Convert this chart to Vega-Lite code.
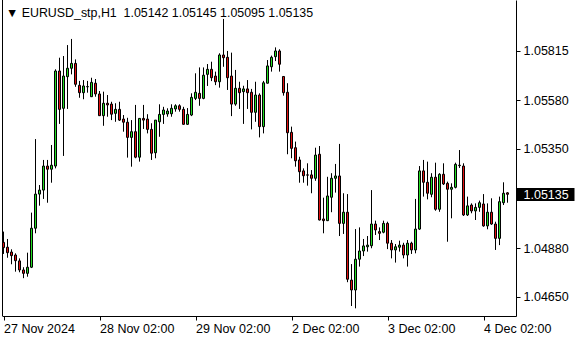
{
  "$schema": "https://vega.github.io/schema/vega-lite/v6.json",
  "width": 514,
  "height": 316,
  "autosize": {"type": "none"},
  "padding": {"left": 2, "top": 0, "right": 64, "bottom": 24},
  "background": "white",
  "config": {"view": {"stroke": null}},
  "datasets": {
    "frame": [{"edge": -0.25}],
    "last": [{"p": 1.05135}],
    "head": [{"label": "▼ EURUSD_stp,H1\u00a0\u00a01.05142 1.05145 1.05095 1.05135"}],
    "bars": [
      {"i":0,"o":1.04907,"h":1.04958,"l":1.04852,"c":1.04882},
      {"i":1,"o":1.04884,"h":1.04923,"l":1.04834,"c":1.04858},
      {"i":2,"o":1.04861,"h":1.04874,"l":1.04803,"c":1.04844},
      {"i":3,"o":1.04847,"h":1.04855,"l":1.04768,"c":1.0482},
      {"i":4,"o":1.04819,"h":1.04831,"l":1.04765,"c":1.04776},
      {"i":5,"o":1.04776,"h":1.04789,"l":1.04737,"c":1.0476},
      {"i":6,"o":1.0476,"h":1.04858,"l":1.04744,"c":1.04789},
      {"i":7,"o":1.04789,"h":1.05048,"l":1.04785,"c":1.04974},
      {"i":8,"o":1.04974,"h":1.05397,"l":1.0495,"c":1.05136},
      {"i":9,"o":1.05136,"h":1.05179,"l":1.05081,"c":1.05155},
      {"i":10,"o":1.05155,"h":1.05298,"l":1.05113,"c":1.05269},
      {"i":11,"o":1.05269,"h":1.05298,"l":1.05095,"c":1.05254},
      {"i":12,"o":1.05254,"h":1.05369,"l":1.0519,"c":1.05273},
      {"i":13,"o":1.05269,"h":1.05728,"l":1.05258,"c":1.0572},
      {"i":14,"o":1.0572,"h":1.05783,"l":1.05469,"c":1.05538},
      {"i":15,"o":1.05543,"h":1.05791,"l":1.05317,"c":1.05696},
      {"i":16,"o":1.05693,"h":1.05843,"l":1.0554,"c":1.05733},
      {"i":17,"o":1.05733,"h":1.05872,"l":1.05704,"c":1.05756},
      {"i":18,"o":1.05756,"h":1.05775,"l":1.05645,"c":1.05657},
      {"i":19,"o":1.05652,"h":1.05673,"l":1.05593,"c":1.05617},
      {"i":20,"o":1.05617,"h":1.05677,"l":1.05586,"c":1.05649},
      {"i":21,"o":1.05645,"h":1.05673,"l":1.05617,"c":1.05646},
      {"i":22,"o":1.05598,"h":1.05688,"l":1.05597,"c":1.05666},
      {"i":23,"o":1.05662,"h":1.05682,"l":1.05598,"c":1.05611},
      {"i":24,"o":1.05611,"h":1.05625,"l":1.05507,"c":1.05508},
      {"i":25,"o":1.05508,"h":1.05622,"l":1.0546,"c":1.05567},
      {"i":26,"o":1.05567,"h":1.05606,"l":1.05503,"c":1.05559},
      {"i":27,"o":1.05563,"h":1.05574,"l":1.05487,"c":1.05515},
      {"i":28,"o":1.05519,"h":1.05567,"l":1.05479,"c":1.05538},
      {"i":29,"o":1.05538,"h":1.05574,"l":1.05483,"c":1.05487},
      {"i":30,"o":1.05492,"h":1.05511,"l":1.05432,"c":1.05477},
      {"i":31,"o":1.05477,"h":1.05498,"l":1.05309,"c":1.05405},
      {"i":32,"o":1.05405,"h":1.05487,"l":1.05266,"c":1.05432},
      {"i":33,"o":1.05432,"h":1.05559,"l":1.05306,"c":1.05311},
      {"i":34,"o":1.05311,"h":1.05496,"l":1.0529,"c":1.05495},
      {"i":35,"o":1.05495,"h":1.05559,"l":1.05445,"c":1.05487},
      {"i":36,"o":1.05492,"h":1.05515,"l":1.05424,"c":1.05443},
      {"i":37,"o":1.05443,"h":1.05472,"l":1.05298,"c":1.0533},
      {"i":38,"o":1.05332,"h":1.05487,"l":1.05306,"c":1.05487},
      {"i":39,"o":1.05479,"h":1.05562,"l":1.05408,"c":1.05514},
      {"i":40,"o":1.05514,"h":1.0555,"l":1.05469,"c":1.05535},
      {"i":41,"o":1.05516,"h":1.05543,"l":1.05503,"c":1.0553},
      {"i":42,"o":1.05517,"h":1.05562,"l":1.05503,"c":1.05543},
      {"i":43,"o":1.0554,"h":1.05562,"l":1.05527,"c":1.05555},
      {"i":44,"o":1.05555,"h":1.05562,"l":1.05527,"c":1.05538},
      {"i":45,"o":1.05538,"h":1.0555,"l":1.05466,"c":1.05467},
      {"i":46,"o":1.05467,"h":1.05544,"l":1.05464,"c":1.05514},
      {"i":47,"o":1.05511,"h":1.05614,"l":1.05506,"c":1.05595},
      {"i":48,"o":1.0559,"h":1.05709,"l":1.05582,"c":1.05619},
      {"i":49,"o":1.05614,"h":1.05737,"l":1.05555,"c":1.0559},
      {"i":50,"o":1.0559,"h":1.05737,"l":1.05586,"c":1.057},
      {"i":51,"o":1.05704,"h":1.05753,"l":1.05649,"c":1.05728},
      {"i":52,"o":1.05728,"h":1.05764,"l":1.05672,"c":1.05688},
      {"i":53,"o":1.05696,"h":1.05717,"l":1.05653,"c":1.05669},
      {"i":54,"o":1.05669,"h":1.05804,"l":1.05641,"c":1.05796},
      {"i":55,"o":1.05796,"h":1.05967,"l":1.0574,"c":1.05783},
      {"i":56,"o":1.05785,"h":1.05815,"l":1.0563,"c":1.05688},
      {"i":57,"o":1.05696,"h":1.05807,"l":1.05506,"c":1.05563},
      {"i":58,"o":1.05563,"h":1.05725,"l":1.05555,"c":1.05638},
      {"i":59,"o":1.05638,"h":1.05669,"l":1.0554,"c":1.05617},
      {"i":60,"o":1.05622,"h":1.0565,"l":1.05469,"c":1.05635},
      {"i":61,"o":1.05635,"h":1.05677,"l":1.0554,"c":1.05617},
      {"i":62,"o":1.05619,"h":1.05635,"l":1.05443,"c":1.05524},
      {"i":63,"o":1.05524,"h":1.05669,"l":1.05479,"c":1.05606},
      {"i":64,"o":1.05606,"h":1.05614,"l":1.05405,"c":1.05456},
      {"i":65,"o":1.05456,"h":1.05673,"l":1.05424,"c":1.05664},
      {"i":66,"o":1.05662,"h":1.05772,"l":1.05661,"c":1.05744},
      {"i":67,"o":1.0574,"h":1.05793,"l":1.05717,"c":1.05785},
      {"i":68,"o":1.05788,"h":1.05832,"l":1.05767,"c":1.05815},
      {"i":69,"o":1.05815,"h":1.05823,"l":1.05717,"c":1.05752},
      {"i":70,"o":1.05694,"h":1.05696,"l":1.05603,"c":1.05617},
      {"i":71,"o":1.05619,"h":1.05662,"l":1.05325,"c":1.05427},
      {"i":72,"o":1.05429,"h":1.05456,"l":1.05306,"c":1.05353},
      {"i":73,"o":1.05356,"h":1.05385,"l":1.05266,"c":1.05294},
      {"i":74,"o":1.05298,"h":1.05313,"l":1.0519,"c":1.05242},
      {"i":75,"o":1.05246,"h":1.05258,"l":1.0519,"c":1.05223},
      {"i":76,"o":1.05227,"h":1.05282,"l":1.05176,"c":1.05226},
      {"i":77,"o":1.05227,"h":1.0525,"l":1.0514,"c":1.05211},
      {"i":78,"o":1.05211,"h":1.05356,"l":1.05199,"c":1.05321},
      {"i":79,"o":1.05325,"h":1.05364,"l":1.05011,"c":1.05013},
      {"i":80,"o":1.05018,"h":1.05119,"l":1.0495,"c":1.0501},
      {"i":81,"o":1.0501,"h":1.05218,"l":1.05008,"c":1.05127},
      {"i":82,"o":1.05121,"h":1.05235,"l":1.0505,"c":1.05211},
      {"i":83,"o":1.05211,"h":1.05279,"l":1.05143,"c":1.05222},
      {"i":84,"o":1.05222,"h":1.05374,"l":1.04937,"c":1.04997},
      {"i":85,"o":1.04997,"h":1.0514,"l":1.04947,"c":1.0505},
      {"i":86,"o":1.0505,"h":1.05136,"l":1.04718,"c":1.04732},
      {"i":87,"o":1.04728,"h":1.04804,"l":1.04605,"c":1.04681},
      {"i":88,"o":1.04681,"h":1.0497,"l":1.04594,"c":1.04827},
      {"i":89,"o":1.04827,"h":1.04978,"l":1.04792,"c":1.04866},
      {"i":90,"o":1.04866,"h":1.04923,"l":1.04842,"c":1.0489},
      {"i":91,"o":1.04886,"h":1.04937,"l":1.04863,"c":1.04894},
      {"i":92,"o":1.04891,"h":1.05155,"l":1.04879,"c":1.04994},
      {"i":93,"o":1.04994,"h":1.0501,"l":1.04942,"c":1.04966},
      {"i":94,"o":1.04958,"h":1.04978,"l":1.04918,"c":1.0495},
      {"i":95,"o":1.04955,"h":1.0501,"l":1.0495,"c":1.04997},
      {"i":96,"o":1.04997,"h":1.05005,"l":1.04875,"c":1.04903},
      {"i":97,"o":1.04903,"h":1.04918,"l":1.04831,"c":1.04871},
      {"i":98,"o":1.04871,"h":1.04899,"l":1.04811,"c":1.04886},
      {"i":99,"o":1.04884,"h":1.04915,"l":1.04863,"c":1.04894},
      {"i":100,"o":1.04894,"h":1.04905,"l":1.04831,"c":1.04847},
      {"i":101,"o":1.04847,"h":1.04918,"l":1.04792,"c":1.04903},
      {"i":102,"o":1.04903,"h":1.0491,"l":1.04852,"c":1.04871},
      {"i":103,"o":1.04871,"h":1.05113,"l":1.04855,"c":1.0497},
      {"i":104,"o":1.0497,"h":1.05269,"l":1.04966,"c":1.05246},
      {"i":105,"o":1.05246,"h":1.05298,"l":1.05124,"c":1.05192},
      {"i":106,"o":1.05192,"h":1.0529,"l":1.05111,"c":1.0514},
      {"i":107,"o":1.05135,"h":1.05235,"l":1.05121,"c":1.05216},
      {"i":108,"o":1.05216,"h":1.05285,"l":1.05057,"c":1.05064},
      {"i":109,"o":1.05064,"h":1.05235,"l":1.05052,"c":1.0523},
      {"i":110,"o":1.0523,"h":1.05282,"l":1.05179,"c":1.05184},
      {"i":111,"o":1.05187,"h":1.05195,"l":1.0491,"c":1.05159},
      {"i":112,"o":1.05159,"h":1.05187,"l":1.05021,"c":1.05168},
      {"i":113,"o":1.05168,"h":1.05285,"l":1.05163,"c":1.05277},
      {"i":114,"o":1.05273,"h":1.05345,"l":1.0526,"c":1.05271},
      {"i":115,"o":1.05269,"h":1.05282,"l":1.05032,"c":1.05037},
      {"i":116,"o":1.05037,"h":1.05124,"l":1.05032,"c":1.0508},
      {"i":117,"o":1.05084,"h":1.05092,"l":1.05045,"c":1.05056},
      {"i":118,"o":1.05056,"h":1.05092,"l":1.05013,"c":1.05073},
      {"i":119,"o":1.05073,"h":1.05105,"l":1.05052,"c":1.05095},
      {"i":120,"o":1.05089,"h":1.05136,"l":1.04981,"c":1.04985},
      {"i":121,"o":1.04985,"h":1.05092,"l":1.04969,"c":1.0505},
      {"i":122,"o":1.0505,"h":1.05116,"l":1.0499,"c":1.04994},
      {"i":123,"o":1.04994,"h":1.05005,"l":1.04871,"c":1.04926},
      {"i":124,"o":1.04926,"h":1.05124,"l":1.04894,"c":1.051},
      {"i":125,"o":1.05095,"h":1.05192,"l":1.05084,"c":1.0514},
      {"i":126,"o":1.05142,"h":1.05145,"l":1.05095,"c":1.05135}
    ]
  },
  "layer": [
    {
      "data": {"name": "frame"},
      "mark": {"type": "rule", "color": "black", "strokeWidth": 1},
      "encoding": {
        "x": {"field": "edge", "type": "quantitative", "scale": {"domain": [-0.375, 128.125], "nice": false, "zero": false, "padding": 0},
          "axis": {"values": [0, 24, 48, 72, 96, 120], "labelExpr": "datum.value == 0 ? '27 Nov 2024' : datum.value == 24 ? '28 Nov 02:00' : datum.value == 48 ? '29 Nov 02:00' : datum.value == 72 ? '2 Dec 02:00' : datum.value == 96 ? '3 Dec 02:00' : '4 Dec 02:00'", "title": null, "grid": false, "domainColor": "black", "tickColor": "black", "tickSize": 4, "labelAlign": "left", "labelBaseline": "top", "labelPadding": 2, "labelFont": "Liberation Sans", "labelFontSize": 12.5, "labelColor": "black", "labelOverlap": false, "labelFlush": false, "labelBound": false}}
      }
    },
    {
      "data": {"name": "bars"},
      "mark": {"type": "rule", "color": "black", "strokeWidth": 1},
      "encoding": {
        "x": {"field": "i", "type": "quantitative", "scale": {"domain": [-0.375, 128.125], "nice": false, "zero": false, "padding": 0},
          "axis": {"values": [0, 24, 48, 72, 96, 120], "labelExpr": "datum.value == 0 ? '27 Nov 2024' : datum.value == 24 ? '28 Nov 02:00' : datum.value == 48 ? '29 Nov 02:00' : datum.value == 72 ? '2 Dec 02:00' : datum.value == 96 ? '3 Dec 02:00' : '4 Dec 02:00'", "title": null, "grid": false, "domainColor": "black", "tickColor": "black", "tickSize": 4, "labelAlign": "left", "labelBaseline": "top", "labelPadding": 2, "labelFont": "Liberation Sans", "labelFontSize": 12.5, "labelColor": "black", "labelOverlap": false, "labelFlush": false, "labelBound": false}},
        "y": {"field": "l", "type": "quantitative", "scale": {"domain": [1.045576, 1.060568], "nice": false, "zero": false},
          "axis": {"orient": "right", "values": [1.0465, 1.0488, 1.0535, 1.0558, 1.05815], "format": ".5f", "title": null, "grid": false, "domainColor": "black", "tickColor": "black", "tickSize": 4, "labelPadding": 3, "labelColor": "black", "labelFont": "Liberation Sans", "labelFontSize": 12.5, "labelOverlap": false, "labelBound": false, "labelFlush": false}},
        "y2": {"field": "h"}
      }
    },
    {
      "data": {"name": "bars"},
      "mark": {"type": "bar", "width": 2, "stroke": "black", "strokeWidth": 1},
      "encoding": {
        "x": {"field": "i", "type": "quantitative", "scale": {"domain": [-0.375, 128.125], "nice": false, "zero": false, "padding": 0},
          "axis": {"values": [0, 24, 48, 72, 96, 120], "labelExpr": "datum.value == 0 ? '27 Nov 2024' : datum.value == 24 ? '28 Nov 02:00' : datum.value == 48 ? '29 Nov 02:00' : datum.value == 72 ? '2 Dec 02:00' : datum.value == 96 ? '3 Dec 02:00' : '4 Dec 02:00'", "title": null, "grid": false, "domainColor": "black", "tickColor": "black", "tickSize": 4, "labelAlign": "left", "labelBaseline": "top", "labelPadding": 2, "labelFont": "Liberation Sans", "labelFontSize": 12.5, "labelColor": "black", "labelOverlap": false, "labelFlush": false, "labelBound": false}},
        "y": {"field": "o", "type": "quantitative", "scale": {"domain": [1.045576, 1.060568], "nice": false, "zero": false}, "axis": null},
        "y2": {"field": "c"},
        "fill": {"condition": {"test": "datum.c >= datum.o", "value": "#22dd22"}, "value": "#e01010"}
      }
    },
    {
      "data": {"name": "head"},
      "mark": {"type": "text", "align": "left", "baseline": "alphabetic", "font": "Liberation Sans", "fontSize": 12.4, "color": "#000000"},
      "encoding": {
        "x": {"datum": 0.625, "type": "quantitative", "scale": {"domain": [-0.375, 128.125], "nice": false, "zero": false, "padding": 0},
          "axis": {"values": [0, 24, 48, 72, 96, 120], "labelExpr": "datum.value == 0 ? '27 Nov 2024' : datum.value == 24 ? '28 Nov 02:00' : datum.value == 48 ? '29 Nov 02:00' : datum.value == 72 ? '2 Dec 02:00' : datum.value == 96 ? '3 Dec 02:00' : '4 Dec 02:00'", "title": null, "grid": false, "domainColor": "black", "tickColor": "black", "tickSize": 4, "labelAlign": "left", "labelBaseline": "top", "labelPadding": 2, "labelFont": "Liberation Sans", "labelFontSize": 12.5, "labelColor": "black", "labelOverlap": false, "labelFlush": false, "labelBound": false}},
        "y": {"datum": 1.059761, "type": "quantitative", "scale": {"domain": [1.045576, 1.060568], "nice": false, "zero": false}, "axis": null},
        "text": {"field": "label", "type": "nominal"}
      }
    },
    {
      "data": {"name": "last"},
      "mark": {"type": "point", "opacity": 0},
      "encoding": {
        "y": {"field": "p", "type": "quantitative", "scale": {"domain": [1.045576, 1.060568], "nice": false, "zero": false},
          "axis": {"orient": "right", "values": [1.05135], "format": ".5f", "title": null, "grid": false, "domain": false, "tickColor": "black", "tickSize": 58, "tickWidth": 13, "labelPadding": -51, "labelColor": "white", "labelFont": "Liberation Sans", "labelFontSize": 12.5, "labelOverlap": false, "labelBound": false, "labelFlush": false}}
      }
    }
  ],
  "resolve": {"axis": {"y": "independent"}}
}
